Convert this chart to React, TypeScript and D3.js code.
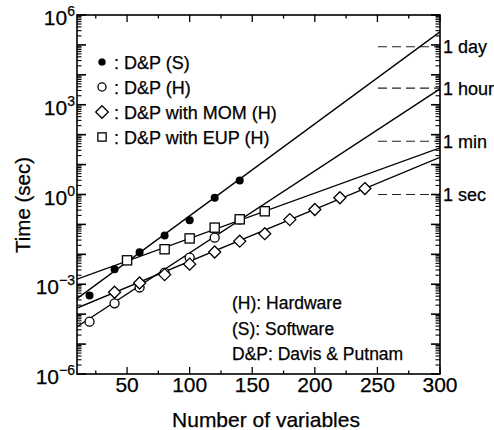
import React from 'react';
import * as d3 from 'd3';

// values in seconds
const nS = [20, 40, 60, 80, 100, 120, 140];
const tS = [4.2e-4, 3.2e-3, 1.17e-2, 4.3e-2, 0.138, 0.78, 2.95];

const nH = [20, 40, 60, 80, 100, 120, 140];
const tH = [5.6e-5, 2.3e-4, 7.8e-4, 2.45e-3, 7.8e-3, 3.6e-2, 0.148];

const nMOM = [40, 60, 80, 100, 120, 140, 160, 180, 200, 220, 240];
const tMOM = [5.4e-4, 1.1e-3, 2.1e-3, 4.7e-3, 1.2e-2, 2.75e-2, 4.9e-2, 0.145, 0.316, 0.78, 1.58];

const nEUP = [50, 80, 100, 120, 140, 160];
const tEUP = [6.3e-3, 1.48e-2, 3.4e-2, 7.8e-2, 0.148, 0.275];

// fitted lines, endpoints at n = 10 and n = 300
const fitN = [10, 300];
const fitS = [3.3e-4, 2.75e5];
const fitH = [3.8e-5, 3.4e3];
const fitMOM = [1.6e-4, 17.5];
const fitEUP = [1.48e-3, 36.3];

const legendLabels = [': D&P (S)', ': D&P (H)', ': D&P with MOM (H)', ': D&P with EUP (H)'];
const noteLabels = ['(H): Hardware', '(S): Software', 'D&P: Davis & Putnam'];
const refLabels = ['1 day', '1 hour', '1 min', '1 sec'];
const refValues = [86400, 3600, 60, 1];
const xTickLabels = [50, 100, 150, 200, 250, 300];
const yLabelExps = [-6, -3, 0, 3, 6];

const W = 494, H = 430;
const left = 77, right = 440, top = 15, bottom = 374;
const font = '"Liberation Sans", Arial, Helvetica, sans-serif';

type Kind = 'filled' | 'open' | 'diamond' | 'square';

function Marker({ kind, cx, cy, s = 1 }: { kind: Kind; cx: number; cy: number; s?: number }) {
  if (kind === 'filled') return <circle cx={cx} cy={cy} r={4 * s} fill="#000" />;
  if (kind === 'open')
    return <circle cx={cx} cy={cy} r={4.5 * s} fill="#fff" stroke="#000" strokeWidth={1.3} />;
  if (kind === 'diamond') {
    const h = 6 * s;
    return (
      <path
        d={`M${cx},${cy - h}L${cx + h},${cy}L${cx},${cy + h}L${cx - h},${cy}Z`}
        fill="#fff"
        stroke="#000"
        strokeWidth={1.3}
      />
    );
  }
  const a = 4.6 * s;
  return <rect x={cx - a} y={cy - a} width={2 * a} height={2 * a} fill="#fff" stroke="#000" strokeWidth={1.3} />;
}

export default function App() {
  const x = d3.scaleLinear().domain([10, 300]).range([left, right]);
  const y = d3.scaleLog().domain([1e-6, 1e6]).range([bottom, top]);

  const line = d3
    .line<[number, number]>()
    .x((d) => x(d[0]))
    .y((d) => y(d[1]));

  const series: { kind: Kind; n: number[]; t: number[]; fit: number[] }[] = [
    { kind: 'filled', n: nS, t: tS, fit: fitS },
    { kind: 'open', n: nH, t: tH, fit: fitH },
    { kind: 'diamond', n: nMOM, t: tMOM, fit: fitMOM },
    { kind: 'square', n: nEUP, t: tEUP, fit: fitEUP },
  ];

  const yTicks: { v: number; major: boolean }[] = [];
  d3.range(-6, 6).forEach((k) => {
    d3.range(1, 10).forEach((m) => yTicks.push({ v: m * Math.pow(10, k), major: m === 1 }));
  });
  yTicks.push({ v: 1e6, major: true });

  const xTicks = d3.range(25, 301, 25);

  return (
    <svg
      width={W}
      height={H}
      style={{ position: 'absolute', left: 0, top: 0, background: '#fff' }}
      fontFamily={font}
    >
      <defs>
        <clipPath id="plot">
          <rect x={left} y={top} width={right - left} height={bottom - top} />
        </clipPath>
      </defs>

      {/* reference time lines */}
      {refValues.map((v, i) => (
        <g key={refLabels[i]}>
          <line x1={378} x2={right} y1={y(v)} y2={y(v)} stroke="#222" strokeWidth={1.1} strokeDasharray="9,5" />
          <text x={443} y={y(v) + 6.5} fontSize={18} stroke="#000" strokeWidth={0.25}>
            {refLabels[i]}
          </text>
        </g>
      ))}

      {/* fitted lines */}
      <g clipPath="url(#plot)">
        {series.map((s) => (
          <path
            key={s.kind}
            d={line(fitN.map((n, i) => [n, s.fit[i]] as [number, number])) || ''}
            fill="none"
            stroke="#000"
            strokeWidth={1.4}
          />
        ))}
      </g>

      {/* markers */}
      {series.map((s) =>
        s.n.map((n, i) => <Marker key={s.kind + n} kind={s.kind} cx={x(n)} cy={y(s.t[i])} />)
      )}

      {/* frame */}
      <rect x={left} y={top} width={right - left} height={bottom - top} fill="none" stroke="#000" strokeWidth={1.6} />

      {/* y ticks, left and right */}
      {yTicks.map((t, i) => {
        const len = t.major ? 9 : 4.5;
        const yy = y(t.v);
        return (
          <g key={'yt' + i} stroke="#000" strokeWidth={t.major ? 1.6 : 1.1}>
            <line x1={left} x2={left + len} y1={yy} y2={yy} />
            <line x1={right} x2={right - len} y1={yy} y2={yy} />
          </g>
        );
      })}

      {/* x ticks, top and bottom */}
      {xTicks.map((v) => {
        const len = v % 50 === 0 ? 7 : 3.5;
        return (
          <g key={'xt' + v} stroke="#000" strokeWidth={1.3}>
            <line x1={x(v)} x2={x(v)} y1={bottom} y2={bottom - len} />
            <line x1={x(v)} x2={x(v)} y1={top} y2={top + len} />
          </g>
        );
      })}

      <g stroke="#000" strokeWidth={0.25}>
        {/* y tick labels */}
        {yLabelExps.map((e) => (
          <text key={'yl' + e} x={75} y={y(Math.pow(10, e)) + 10} fontSize={21} textAnchor="end">
            10
            <tspan fontSize={14} dy={-9}>
              {e < 0 ? '\u2212' + Math.abs(e) : e}
            </tspan>
          </text>
        ))}

        {/* x tick labels */}
        {xTickLabels.map((v) => (
          <text key={'xl' + v} x={x(v)} y={392} fontSize={21} textAnchor="middle">
            {v}
          </text>
        ))}

        {/* axis titles */}
        <text x={266} y={427} fontSize={21} textAnchor="middle">
          Number of variables
        </text>
        <text transform="translate(30,205) rotate(-90)" fontSize={20.5} textAnchor="middle">
          Time (sec)
        </text>

        {/* legend */}
        {legendLabels.map((lab, i) => (
          <g key={lab}>
            <Marker kind={series[i].kind} cx={102} cy={62 + i * 25} s={i === 0 ? 0.9 : i === 2 ? 1.05 : 0.9} />
            <text x={114} y={68.5 + i * 25} fontSize={18}>
              {lab}
            </text>
          </g>
        ))}

        {/* notes */}
        {noteLabels.map((lab, i) => (
          <text key={lab} x={232} y={309 + i * 25.5} fontSize={17.5}>
            {lab}
          </text>
        ))}
      </g>
    </svg>
  );
}
